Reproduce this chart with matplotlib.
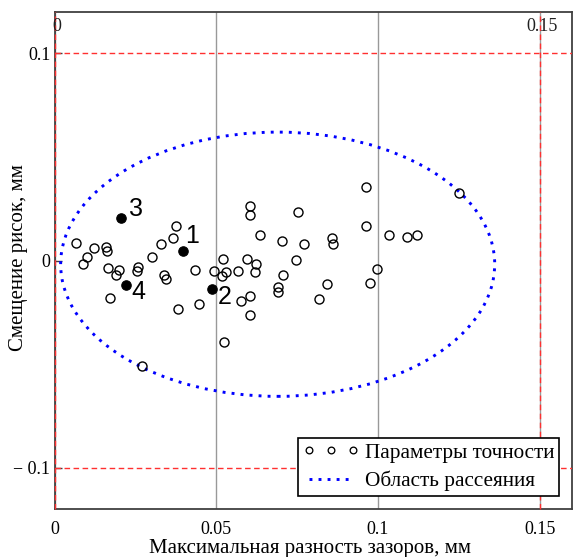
import matplotlib
matplotlib.use("Agg")
import matplotlib.pyplot as plt
from matplotlib.patches import Ellipse
from matplotlib.lines import Line2D

# ---- data ----
x_params = [0.0066, 0.0123, 0.0160, 0.0162, 0.0100, 0.0089, 0.0166, 0.0199, 0.0190, 0.0259,
            0.0254, 0.0301, 0.0328, 0.0365, 0.0377, 0.0339, 0.0345, 0.0435, 0.0492, 0.0520,
            0.0529, 0.0567, 0.0595, 0.0622, 0.0620, 0.0517, 0.0172, 0.0382, 0.0447, 0.0525,
            0.0577, 0.0603, 0.0603, 0.0605, 0.0605, 0.0753, 0.0964, 0.0964, 0.0636, 0.0702,
            0.0770, 0.0857, 0.0862, 0.1033, 0.1089, 0.1120, 0.1250, 0.0746, 0.0705, 0.0692,
            0.0692, 0.0843, 0.0819, 0.0997, 0.0976, 0.0270]
y_params = [0.0084, 0.0058, 0.0067, 0.0046, 0.0017, -0.0017, -0.0036, -0.0047, -0.0068, -0.0031,
            -0.0051, 0.0015, 0.0080, 0.0111, 0.0168, -0.0072, -0.0089, -0.0047, -0.0050, 0.0009,
            -0.0054, -0.0049, 0.0009, -0.0015, -0.0055, -0.0077, -0.0182, -0.0234, -0.0212, -0.0394,
            -0.0195, -0.0171, -0.0265, 0.0265, 0.0218, 0.0236, 0.0353, 0.0168, 0.0124, 0.0096,
            0.0078, 0.0107, 0.0080, 0.0123, 0.0115, 0.0123, 0.0327, 0.0002, -0.0070, -0.0130,
            -0.0150, -0.0113, -0.0188, -0.0042, -0.0107, -0.0508]

x_marked = [0.0398, 0.0486, 0.0206, 0.0221]
y_marked = [0.0047, -0.0137, 0.0206, -0.0120]
marked_labels = ["1", "2", "3", "4"]

ellipse_center = (0.0690, -0.0018)
ellipse_half_width = 0.0671
ellipse_half_height = 0.0638

marker_lines_x = [0.0, 0.15]
marker_lines_y = [0.1, -0.1]
x_ticks = [0, 0.05, 0.1, 0.15]
x_tick_labels = ["0", "0.05", "0.1", "0.15"]
y_ticks = [-0.1, 0, 0.1]
y_tick_labels = ["\u2212 0.1", "0", "0.1"]

legend_labels = ["Параметры точности", "Область рассеяния"]
xlabel = "Максимальная разность зазоров, мм"
ylabel = "Смещение рисок, мм"

# ---- figure ----
plt.rcParams['font.family'] = ['Liberation Serif', 'DejaVu Serif']
fig = plt.figure(figsize=(5.74, 5.57), dpi=100)
ax = fig.add_axes([54.5 / 574, 48 / 557, 517.5 / 574, 497 / 557])
ax.set_xlim(0, 0.16)
ax.set_ylim(-0.12, 0.12)

for s in ax.spines.values():
    s.set_color('#404040')
    s.set_linewidth(1.3)

ax.set_xticks(x_ticks)
ax.set_xticklabels(x_tick_labels, fontsize=13)
ax.set_yticks(y_ticks)
ax.set_yticklabels(y_tick_labels, fontsize=13)
ax.tick_params(axis='x', length=0, pad=9)
ax.tick_params(axis='y', direction='in', length=5, width=1, color='#404040', pad=3)
ax.grid(axis='x', color='#999999', lw=1)
ax.set_axisbelow(True)

for xv in marker_lines_x:
    ax.axvline(xv, color='#ff3030', lw=1, ls=(0, (4, 2.5)), zorder=3, clip_on=False)
for yv in marker_lines_y:
    ax.axhline(yv, color='#ff3030', lw=1, ls=(0, (4, 2.5)), zorder=3)

for xv, lab in zip(marker_lines_x, ["0", "0.15"]):
    ax.annotate(lab, xy=(xv, 1), xycoords=('data', 'axes fraction'),
                xytext=(2, -4), textcoords='offset points', ha='center', va='top',
                fontsize=13, color='#202020')

ell = Ellipse(ellipse_center, 2 * ellipse_half_width, 2 * ellipse_half_height,
              fill=False, ec='blue', lw=2.1, ls=(0, (1, 2.1)), zorder=4)
ax.add_patch(ell)

ax.plot(x_params, y_params, ls='none', marker='o', ms=6.5, mfc='none', mec='black',
        mew=1.0, zorder=5)
ax.plot(x_marked, y_marked, ls='none', marker='o', ms=6.8, mfc='black', mec='black',
        mew=0.8, zorder=6)

label_offsets = [(6.5, 10.5), (9.5, -6), (10.5, 6.3), (9, -5)]
for xv, yv, lab, off in zip(x_marked, y_marked, marked_labels, label_offsets):
    ax.annotate(lab, xy=(xv, yv), xytext=off, textcoords='offset points',
                ha='center', va='center', fontsize=18, family='Liberation Sans',
                color='black', zorder=7)

ax.set_xlabel(xlabel, fontsize=15, va='center')
ax.xaxis.set_label_coords(0.494, -0.079)
ax.set_ylabel(ylabel, fontsize=15, va='center')
ax.yaxis.set_label_coords(-0.069, 0.505)

h1 = Line2D([], [], ls='none', marker='o', ms=4.8, mfc='none', mec='black', mew=0.95)
h2 = Line2D([], [], color='blue', lw=2.1, ls=(0, (1, 2.1)))
leg = ax.legend([h1, h2], legend_labels, loc='lower right', bbox_to_anchor=(0.975, 0.026),
                borderaxespad=0, numpoints=3, handlelength=2.65, handletextpad=0.26,
                fontsize=15.3, fancybox=False, framealpha=1, edgecolor='black',
                borderpad=0.22, labelspacing=0.39)
leg.get_frame().set_linewidth(1.2)

fig.savefig("out.png", dpi=100)
